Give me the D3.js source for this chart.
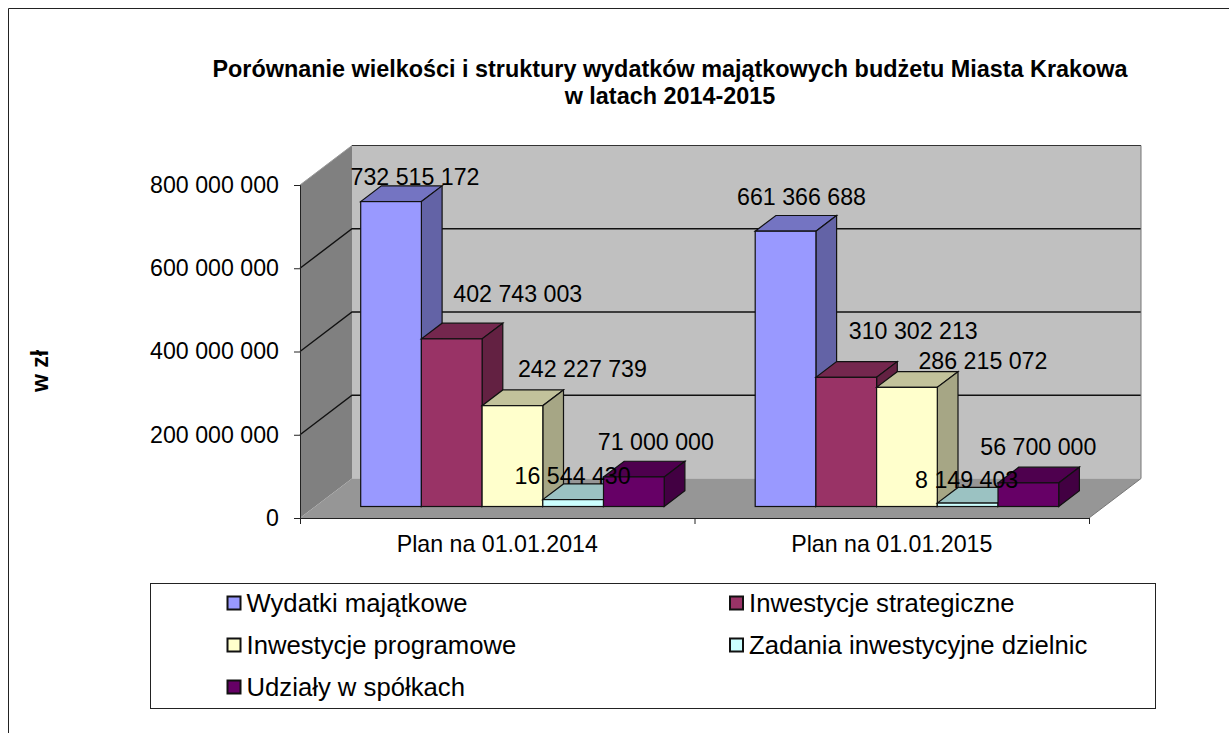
<!DOCTYPE html>
<html>

<head>
  <meta charset='utf-8'>
  <script src="https://cdn.jsdelivr.net/npm/d3@7/dist/d3.min.js"></script>
  <style>
    body { margin: 0; background: #fff; }
    svg { display: block; }
    text { font-family: "Liberation Sans", Arial, sans-serif; fill: #000; }
  </style>
</head>

<body>
</body>
<script>
  let categories = ['Plan na 01.01.2014', 'Plan na 01.01.2015']
  let seriesNames = ['Wydatki majątkowe', 'Inwestycje strategiczne', 'Inwestycje programowe', 'Zadania inwestycyjne dzielnic', 'Udziały w spółkach']
  let seriesColors = ['#9999ff', '#993366', '#ffffcc', '#ccffff', '#660066']
  let values2014 = [732515172, 402743003, 242227739, 16544430, 71000000]
  let values2015 = [661366688, 310302213, 286215072, 8149403, 56700000]
  let yTicks = [0, 200000000, 400000000, 600000000, 800000000]

  let w = 1229
  let h = 733
  // 3d box: front plane of the floor and how far the walls go back
  let x0 = 300, x1 = 1089
  let y0 = 518, y1 = 185
  let depthX = 52, depthY = -39.5
  // bars stand part way into the box
  let barDx = 15.7, barDy = -11.5
  let barDepthX = 20.7, barDepthY = -15.7

  // data labels were moved by hand in the original, offset from bar top centre
  let labelOffsets = [
    [[24, -25], [66, -44.5], [70, -37], [-0.5, -24], [22, -35.5]],
    [[16, -34], [67, -46], [76, -26], [-1, -23.6], [10, -35.7]]
  ]

  let fmt = d => d3.format(',')(d).replace(/,/g, ' ')
  let pts = a => a.map(p => p.join(',')).join(' ')

  let svg = d3.select('body').append('svg')
    .attr('width', w)
    .attr('height', h)

  // outer frame, only top and left are in the shot
  svg.append('path')
    .attr('d', 'M8.5,733V8.5H1229')
    .attr('fill', 'none')
    .attr('stroke', '#222')

  svg.append('text')
    .attr('x', 670)
    .attr('y', 77)
    .attr('text-anchor', 'middle')
    .attr('font-weight', 'bold')
    .attr('font-size', 23.4)
    .text('Porównanie wielkości i struktury wydatków majątkowych budżetu Miasta Krakowa')
  svg.append('text')
    .attr('x', 670)
    .attr('y', 104)
    .attr('text-anchor', 'middle')
    .attr('font-weight', 'bold')
    .attr('font-size', 23.4)
    .text('w latach 2014-2015')

  svg.append('text')
    .attr('transform', 'translate(48,371) rotate(-90)')
    .attr('text-anchor', 'middle')
    .attr('font-weight', 'bold')
    .attr('font-size', 23)
    .text('w zł')

  let yScale = d3.scaleLinear()
    .domain([0, 800000000])
    .range([y0, y1])

  // walls
  svg.append('polygon')
    .attr('points', pts([[x0 + depthX, y0 + depthY], [x1 + depthX, y0 + depthY], [x1 + depthX, y1 + depthY], [x0 + depthX, y1 + depthY]]))
    .attr('fill', '#c0c0c0')
  svg.append('polygon')
    .attr('points', pts([[x0, y0], [x0 + depthX, y0 + depthY], [x0 + depthX, y1 + depthY], [x0, y1]]))
    .attr('fill', '#808080')
  svg.append('polygon')
    .attr('points', pts([[x0, y0], [x1, y0], [x1 + depthX, y0 + depthY], [x0 + depthX, y0 + depthY]]))
    .attr('fill', '#969696')

  // gridlines run along the side wall and then the back wall, 800 000 000 is the top edge
  svg.append('g')
    .selectAll('polyline')
    .data(yTicks.slice(1, -1))
    .enter()
    .append('polyline')
    .attr('points', d => pts([[x0, yScale(d)], [x0 + depthX, yScale(d) + depthY], [x1 + depthX, yScale(d) + depthY]]))
    .attr('fill', 'none')
    .attr('stroke', '#111')
    .attr('stroke-width', 1.4)

  svg.append('path')
    .attr('d', `M${x0},${y1}L${x0 + depthX},${y1 + depthY}`)
    .attr('fill', 'none')
    .attr('stroke', '#999')
  svg.append('path')
    .attr('d', `M${x0 + depthX},${y1 + depthY}H${x1 + depthX}`)
    .attr('fill', 'none')
    .attr('stroke', '#333')
  svg.append('path')
    .attr('d', `M${x1 + depthX},${y1 + depthY}V${y0 + depthY}L${x1},${y0}`)
    .attr('fill', 'none')
    .attr('stroke', '#777')

  let yAxis = d3.axisLeft(yScale)
    .tickValues(yTicks)
    .tickFormat(fmt)
    .tickSize(6)
    .tickPadding(15)
  let yG = svg.append('g')
    .attr('transform', 'translate(' + x0 + ',0)')
    .call(yAxis)
  yG.selectAll('text').attr('font-size', 23.2).attr('font-family', '"Liberation Sans", Arial, sans-serif')
  yG.selectAll('line,path').attr('stroke', '#222')

  // ticks of the category axis sit between the categories
  let xEdge = d3.scaleLinear()
    .domain([0, 2])
    .range([x0, x1])
  let xEdgeAxis = d3.axisBottom(xEdge)
    .tickValues([0, 1, 2])
    .tickFormat('')
    .tickSize(6)
  let xEdgeG = svg.append('g')
    .attr('transform', 'translate(0,' + y0 + ')')
    .call(xEdgeAxis)
  xEdgeG.selectAll('line,path').attr('stroke', '#222')

  let xScale = d3.scaleBand()
    .domain(categories)
    .range([x0, x1])
  let xAxis = d3.axisBottom(xScale)
    .tickSize(0)
    .tickPadding(18)
  let xG = svg.append('g')
    .attr('transform', 'translate(0,' + y0 + ')')
    .call(xAxis)
  xG.select('path').remove()
  xG.selectAll('text').attr('font-size', 23.2).attr('font-family', '"Liberation Sans", Arial, sans-serif')

  // bars
  let inner = d3.scaleBand()
    .domain(d3.range(seriesNames.length))
    .range([45, 348.5])

  ;[values2014, values2015].forEach(function (values, c) {
    let g = svg.append('g')
      .attr('transform', 'translate(' + (xScale(categories[c]) + barDx) + ',' + barDy + ')')
    values.forEach(function (v, i) {
      let l = inner(i)
      let r = l + inner.bandwidth()
      let t = yScale(v)
      let color = d3.color(seriesColors[i])
      let shade = k => d3.rgb(color.r * k, color.g * k, color.b * k)
      g.append('polygon')
        .attr('points', pts([[l, t], [r, t], [r + barDepthX, t + barDepthY], [l + barDepthX, t + barDepthY]]))
        .attr('fill', shade(0.76))
        .attr('stroke', '#111')
        .attr('stroke-width', 1.2)
      g.append('polygon')
        .attr('points', pts([[r, t], [r, y0], [r + barDepthX, y0 + barDepthY], [r + barDepthX, t + barDepthY]]))
        .attr('fill', shade(0.65))
        .attr('stroke', '#111')
        .attr('stroke-width', 1.2)
      g.append('rect')
        .attr('x', l)
        .attr('y', t)
        .attr('width', inner.bandwidth())
        .attr('height', y0 - t)
        .attr('fill', seriesColors[i])
        .attr('stroke', '#111')
        .attr('stroke-width', 1.2)
    })
    // labels go on top of every bar
    values.forEach(function (v, i) {
      g.append('text')
        .attr('x', inner(i) + inner.bandwidth() / 2 + labelOffsets[c][i][0])
        .attr('y', yScale(v) + labelOffsets[c][i][1])
        .attr('dy', '0.35em')
        .attr('text-anchor', 'middle')
        .attr('font-size', 23.2)
        .text(fmt(v))
    })
  })

  // legend
  svg.append('rect')
    .attr('x', 150.5)
    .attr('y', 583.5)
    .attr('width', 1005)
    .attr('height', 125)
    .attr('fill', '#fff')
    .attr('stroke', '#222')

  let legendX = d3.scalePoint().domain([0, 1]).range([227, 729.5])
  let legendY = d3.scalePoint().domain([0, 1, 2]).range([603, 687])
  let items = svg.append('g')
    .selectAll('g')
    .data(seriesNames)
    .enter()
    .append('g')
    .attr('transform', (d, i) => 'translate(' + legendX(i % 2) + ',' + legendY(Math.floor(i / 2)) + ')')
  items.append('rect')
    .attr('x', 0.5)
    .attr('y', -6.5)
    .attr('width', 13)
    .attr('height', 13)
    .attr('fill', (d, i) => seriesColors[i])
    .attr('stroke', '#111')
    .attr('stroke-width', 2)
  items.append('text')
    .attr('x', 19.5)
    .attr('dy', '0.35em')
    .attr('font-size', 25.7)
    .text(d => d)
</script>

</html>
